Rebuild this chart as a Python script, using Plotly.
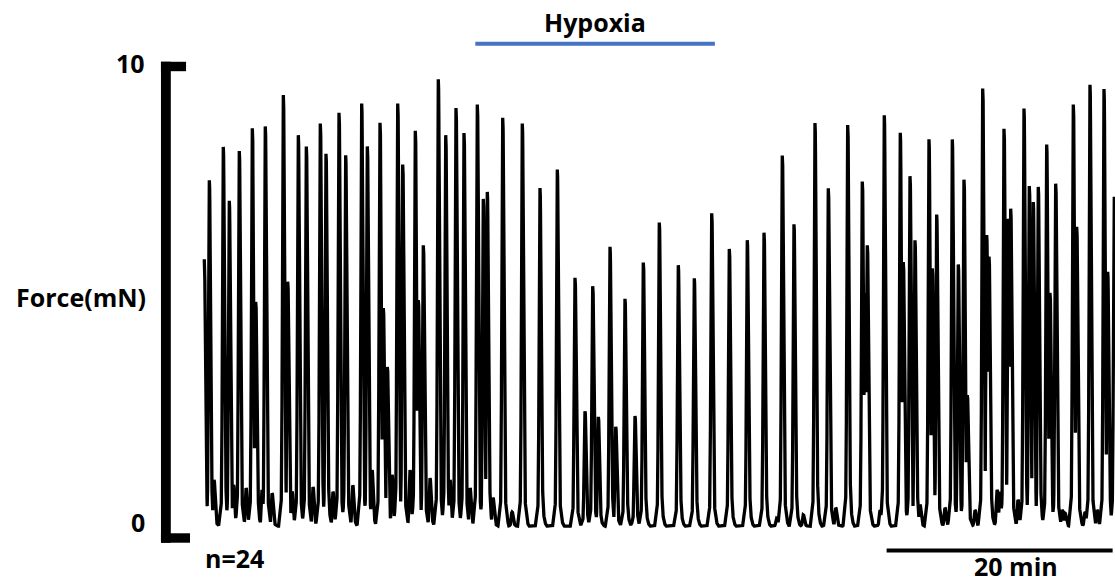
import numpy as np
import plotly.graph_objects as go

# Main contractions: time of peak (min) and peak force (mN)
peak_times = [
    0.115, 0.558, 1.796, 2.327, 3.212, 4.363, 4.664, 5.513, 7.106, 7.496,
    8.434, 9.142, 10.381, 10.885, 12.035, 12.628, 14.044, 14.540, 15.664, 15.956,
    16.310, 17.230, 17.673, 18.788, 19.053, 19.496, 20.823, 21.478, 22.389, 23.097,
    24.274, 24.805, 25.159, 26.522, 28.257, 29.823, 31.354, 32.920, 33.805, 34.487,
    34.982, 36.018, 36.522, 37.345, 38.230, 38.965, 40.381, 42.062, 43.478, 45.018,
    46.575, 48.168, 49.646, 51.265, 52.301, 54.159, 55.336, 57.053, 58.345, 58.584,
    58.788, 60.292, 61.708, 61.973, 62.566, 63.009, 64.248, 64.540, 64.929, 66.310,
    66.841, 67.345, 67.637, 69.000, 69.354, 69.558, 70.885, 71.265, 71.478, 72.655,
    73.124, 73.478, 73.920, 74.664, 74.956, 75.460, 77.018, 77.319, 78.496, 79.735,
    80.062, 80.646,
]
peak_forces = [
    5.91, 7.59, 8.30, 7.15, 8.21, 8.69, 5.01, 8.74, 9.40, 5.44,
    8.55, 8.31, 8.80, 8.16, 9.02, 8.12, 9.22, 8.31, 8.81, 4.88,
    3.63, 9.22, 7.93, 8.64, 5.05, 6.21, 9.73, 8.55, 9.13, 8.60,
    9.20, 7.20, 7.34, 8.92, 8.80, 7.42, 7.82, 5.52, 2.69, 5.34,
    2.57, 6.18, 2.36, 5.08, 2.59, 5.85, 6.70, 5.79, 5.51, 6.89,
    6.13, 6.32, 6.48, 8.12, 6.66, 8.80, 7.42, 8.77, 7.57, 5.20,
    6.21, 8.97, 8.60, 5.86, 7.68, 6.32, 8.46, 5.72, 6.87, 8.46,
    5.81, 7.61, 3.03, 9.54, 6.43, 5.97, 8.69, 6.78, 6.99, 9.11,
    7.47, 7.13, 7.45, 8.35, 5.20, 7.52, 9.20, 6.60, 9.62, 9.52,
    5.65, 7.24,
]

# Small twitches between the main contractions
minor_times = [
    0.97, 2.70, 3.81, 5.22, 6.11, 7.88, 9.73, 11.50, 13.25, 14.96,
    16.73, 18.32, 20.09, 21.86, 23.63, 25.66, 27.35, 31.24, 31.59, 43.36,
    50.77, 53.12, 55.99, 59.91, 63.45, 65.66, 68.32, 70.27, 70.53, 72.12,
    76.02, 76.28, 78.05, 79.12,
]
minor_forces = [
    1.23, 1.12, 1.06, 1.02, 0.95, 0.98, 1.08, 0.98, 1.12, 1.44,
    1.34, 1.44, 1.27, 1.23, 1.06, 0.85, 0.55, 0.49, 0.49, 0.49,
    0.42, 0.49, 0.64, 0.59, 0.70, 0.64, 0.59, 1.02, 0.98, 0.81,
    0.59, 0.53, 0.55, 0.59,
]

resting_force = 0.25          # mN
record_end = 80.71            # min
hypoxia_window = [24.1, 45.3] # min
time_bar_start, time_bar_len = 60.5, 20  # min
force_bar = [0, 10]           # mN

# Shape of a single twitch: offset from the peak (min) and fraction of amplitude
twitch_offsets = [-0.42, -0.28, -0.18, -0.13, -0.08, -0.03, 0.0, 0.04, 0.10, 0.14, 0.19, 0.26, 0.38, 0.55]
twitch_shape = [0.0, 0.03, 0.06, 0.15, 0.60, 0.98, 1.0, 0.97, 0.60, 0.45, 0.20, 0.06, 0.02, 0.0]

t = np.arange(peak_times[0], record_end, 0.004)
envelope = np.zeros_like(t)
offs = np.array(twitch_offsets)
shape = np.array(twitch_shape)
for tp, fp in zip(peak_times + minor_times, peak_forces + minor_forces):
    amp = fp - resting_force
    envelope = np.maximum(envelope, np.interp(t, tp + offs, amp * shape, left=0, right=0))
force = resting_force + envelope

fig = go.Figure()
fig.add_trace(go.Scatter(x=t, y=force, mode="lines",
                         line=dict(color="black", width=3.3),
                         hoverinfo="skip", showlegend=False))

bold = dict(family="Open Sans", size=25, color="black")

# Force scale bracket (0-10 mN)
fig.add_shape(type="rect", xref="x", yref="y", x0=-3.72, x1=-2.85,
              y0=force_bar[0] - 0.1, y1=force_bar[1] + 0.1,
              fillcolor="black", line_width=0)
fig.add_shape(type="rect", xref="x", yref="y", x0=-3.72, x1=-1.50,
              y0=force_bar[1] - 0.1, y1=force_bar[1] + 0.1,
              fillcolor="black", line_width=0)
fig.add_shape(type="rect", xref="x", yref="y", x0=-3.72, x1=-1.15,
              y0=force_bar[0] - 0.1, y1=force_bar[0] + 0.1,
              fillcolor="black", line_width=0)

# Hypoxia period bar
fig.add_shape(type="line", xref="x", yref="y",
              x0=hypoxia_window[0], x1=hypoxia_window[1], y0=10.48, y1=10.48,
              line=dict(color="#4472C4", width=4))
# Time scale bar
fig.add_shape(type="line", xref="x", yref="y",
              x0=time_bar_start, x1=time_bar_start + time_bar_len, y0=-0.265, y1=-0.265,
              line=dict(color="black", width=4))

fig.add_annotation(x=-4.95, y=10.07, text="<b>10</b>", showarrow=False,
                   xanchor="right", yanchor="middle", font=bold)
fig.add_annotation(x=-4.95, y=0.34, text="<b>0</b>", showarrow=False,
                   xanchor="right", yanchor="middle", font=bold)
fig.add_annotation(x=-4.87, y=5.11, text="<b>Force(mN)</b>", showarrow=False,
                   xanchor="right", yanchor="middle", font=bold)
fig.add_annotation(x=0.0, y=-0.42, text="<b>n=24</b>", showarrow=False,
                   xanchor="left", yanchor="middle", font=bold)
fig.add_annotation(x=sum(hypoxia_window) / 2, y=10.94, text="<b>Hypoxia</b>", showarrow=False,
                   xanchor="center", yanchor="middle", font=bold)
fig.add_annotation(x=time_bar_start + time_bar_len / 2 + 1.45, y=-0.975, text="<b>20 min</b>",
                   showarrow=False, xanchor="center", yanchor="bottom", borderpad=0,
                   font=bold)

fig.update_layout(
    width=1115, height=585, autosize=False,
    margin=dict(l=0, r=0, t=0, b=0),
    paper_bgcolor="white", plot_bgcolor="white",
    xaxis=dict(range=[-17.965, record_end], visible=False, fixedrange=True),
    yaxis=dict(range=[-0.997, 11.41], visible=False, fixedrange=True),
    showlegend=False,
)

fig.write_html("out.html")
